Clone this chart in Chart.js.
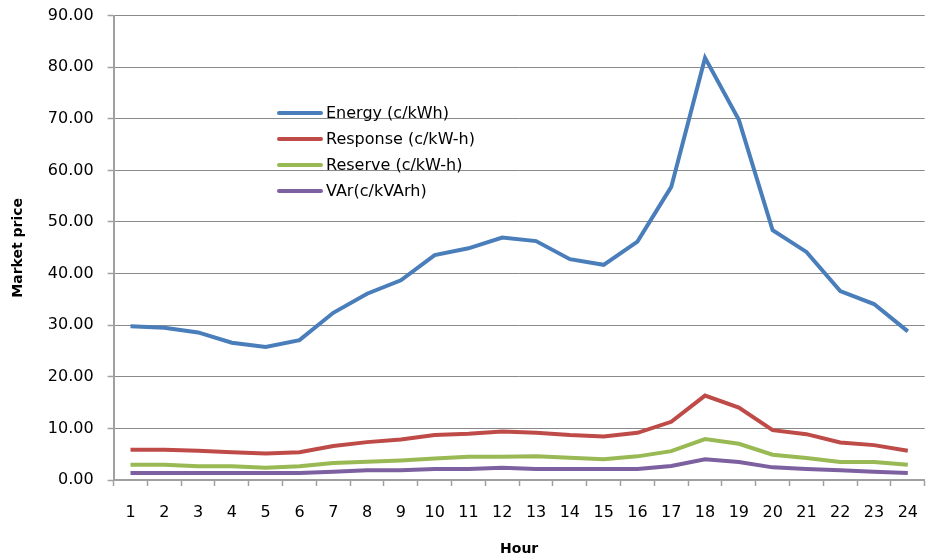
<!DOCTYPE html>
<html>
<head>
<meta charset="utf-8">
<script src="https://cdn.jsdelivr.net/npm/chart.js@4.4.1/dist/chart.umd.min.js"></script>
<style>
  html, body { margin: 0; padding: 0; background: #fff; overflow: hidden; }
  #wrap { width: 935px; height: 568px; margin-top: -8px; }
</style>
</head>
<body>
<div id="wrap"><canvas id="chart-market-price"></canvas></div>
<script>
const hours = ['1','2','3','4','5','6','7','8','9','10','11','12','13','14','15','16','17','18','19','20','21','22','23','24'];

const energy   = [29.8, 29.5, 28.6, 26.6, 25.8, 27.1, 32.4, 36.1, 38.7, 43.6, 44.9, 47.0, 46.3, 42.8, 41.7, 46.2, 56.8, 81.8, 69.8, 48.4, 44.2, 36.6, 34.1, 28.8];
const response = [5.87, 5.87, 5.67, 5.40, 5.15, 5.40, 6.57, 7.34, 7.86, 8.70, 8.96, 9.40, 9.15, 8.70, 8.44, 9.15, 11.28, 16.36, 14.04, 9.66, 8.88, 7.28, 6.76, 5.67];
const reserve  = [2.97, 2.97, 2.65, 2.65, 2.39, 2.65, 3.28, 3.55, 3.80, 4.19, 4.52, 4.52, 4.58, 4.32, 4.00, 4.58, 5.60, 7.92, 7.03, 4.90, 4.25, 3.48, 3.48, 2.97];
const vars     = [1.35, 1.35, 1.35, 1.35, 1.35, 1.35, 1.62, 1.87, 1.87, 2.12, 2.12, 2.39, 2.12, 2.12, 2.12, 2.12, 2.70, 4.00, 3.48, 2.45, 2.12, 1.87, 1.62, 1.35];

const seriesLabels = ['Energy (c/kWh)', 'Response (c/kW-h)', 'Reserve (c/kW-h)', 'VAr(c/kVArh)'];
const seriesColors = ['#4a7ebb', '#be4b48', '#98b954', '#7d60a0'];

const axisGrey = '#a0a0a0';

// legend sits inside the plot, upper left of the energy peak
// (canvas is shifted up 8px, so rows are placed 8px lower in canvas space)
const insideLegend = {
    id: 'insideLegend',
    afterDraw(chart) {
        const ctx = chart.ctx;
        const x0 = 279, y0 = 121, rowH = 26;
        ctx.save();
        ctx.font = '16px "DejaVu Sans"';
        ctx.textBaseline = 'middle';
        chart.data.datasets.forEach((ds, i) => {
            const y = y0 + i * rowH;
            ctx.strokeStyle = ds.borderColor;
            ctx.lineWidth = 4;
            ctx.lineCap = 'round';
            ctx.beginPath();
            ctx.moveTo(x0, y);
            ctx.lineTo(x0 + 42, y);
            ctx.stroke();
            ctx.fillStyle = '#000';
            ctx.fillText(ds.label, x0 + 47, y + 1);
        });
        ctx.restore();
    }
};

const datasets = [energy, response, reserve, vars].map((d, i) => ({
    label: seriesLabels[i],
    data: d,
    borderColor: seriesColors[i],
    backgroundColor: seriesColors[i],
    borderWidth: 4,
    pointRadius: 0,
    tension: 0,
    fill: false
}));

new Chart(document.getElementById('chart-market-price'), {
    type: 'line',
    data: { labels: hours, datasets: datasets },
    plugins: [insideLegend],
    options: {
        responsive: true,
        maintainAspectRatio: false,
        animation: false,
        layout: { padding: { top: 0, left: 10, right: 0, bottom: 2 } },
        scales: {
            x: {
                offset: true,
                grid: {
                    offset: true,
                    drawOnChartArea: false,
                    color: axisGrey,
                    tickLength: 6,
                    tickWidth: 1.5
                },
                border: { color: axisGrey, width: 2 },
                ticks: {
                    color: '#000',
                    padding: 17,
                    maxRotation: 0,
                    autoSkip: false,
                    font: { family: 'DejaVu Sans', size: 16 }
                },
                title: {
                    display: true,
                    text: 'Hour',
                    color: '#000',
                    padding: { top: 2, bottom: 0 },
                    font: { family: 'DejaVu Sans', size: 14, weight: 'bold' }
                }
            },
            y: {
                min: 0,
                max: 90,
                ticks: {
                    stepSize: 10,
                    color: '#000',
                    padding: 14,
                    callback: v => v.toFixed(2),
                    font: { family: 'DejaVu Sans', size: 16 }
                },
                grid: {
                    color: '#8a8a8a',
                    lineWidth: 1,
                    borderDash: [1, 2],
                    tickBorderDash: [],
                    tickColor: axisGrey,
                    tickLength: 6,
                    tickWidth: 1.5
                },
                border: { color: axisGrey, width: 2 },
                title: {
                    display: true,
                    text: 'Market price',
                    color: '#000',
                    padding: { top: 0, bottom: 7 },
                    font: { family: 'DejaVu Sans', size: 14, weight: 'bold' }
                }
            }
        },
        plugins: {
            legend: { display: false },
            tooltip: { enabled: false }
        }
    }
});
</script>
</body>
</html>
